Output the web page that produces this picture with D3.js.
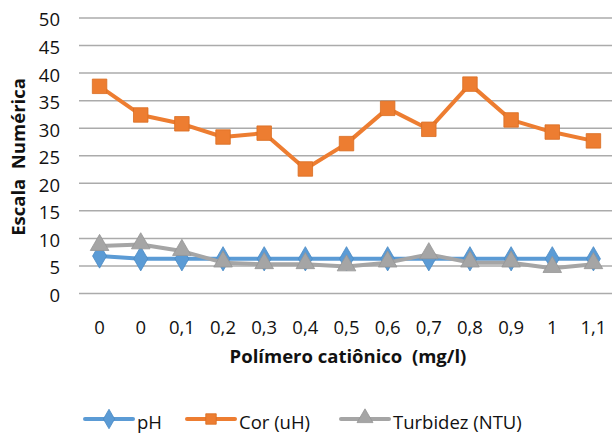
<!DOCTYPE html>
<html>
<head>
<meta charset="utf-8">
<script src="https://cdn.jsdelivr.net/npm/d3@7"></script>
<style>
    body { margin: 0; background: #fff; }
    text { font-family: "Open Sans", "Noto Sans", sans-serif; fill: #111; }
</style>
</head>
<body>
<div class="viz"></div>
<script>
// categorias do eixo x (polímero catiônico, mg/l)
var categories = ["0", "0", "0,1", "0,2", "0,3", "0,4", "0,5", "0,6", "0,7", "0,8", "0,9", "1", "1,1"];

var phValues = [6.8, 6.3, 6.3, 6.3, 6.3, 6.3, 6.3, 6.3, 6.3, 6.3, 6.3, 6.3, 6.3];
var corValues = [37.6, 32.4, 30.8, 28.4, 29.1, 22.6, 27.2, 33.6, 29.8, 38.0, 31.5, 29.3, 27.7];
var turbValues = [8.6, 8.9, 7.7, 5.6, 5.3, 5.3, 4.9, 5.6, 7.1, 5.6, 5.6, 4.6, 5.3];

var yTicks = [0, 5, 10, 15, 20, 25, 30, 35, 40, 45, 50];

var seriesNames = ["pH", "Cor (uH)", "Turbidez (NTU)"];
var seriesColors = ["#5B9BD5", "#ED7D31", "#A5A5A5"];
var seriesStroke = ["#4a8ac4", "#d96d22", "#959595"];
var seriesShapes = [d3.symbolDiamond, d3.symbolSquare, d3.symbolTriangle];

var width = 612,
    height = 433,
    margin = { top: 18, bottom: 139.5, left: 79, right: -2 };

var svg = d3.select('.viz').append('svg')
    .attr('width', width)
    .attr('height', height);

var x = d3.scaleBand()
    .domain(d3.range(categories.length))
    .range([margin.left, width - margin.right]);

var y = d3.scaleLinear()
    .domain([0, 50])
    .range([height - margin.bottom, margin.top]);

// linhas de grade
svg.append("g")
    .selectAll("line")
    .data(yTicks)
    .enter().append("line")
    .attr("x1", margin.left)
    .attr("x2", width)
    .attr("y1", d => y(d))
    .attr("y2", d => y(d))
    .attr("stroke", "#ababab")
    .attr("stroke-width", 1.5);

// rótulos do eixo y
svg.append("g")
    .selectAll("text")
    .data(yTicks)
    .enter().append("text")
    .attr("x", 60)
    .attr("y", d => y(d) + 2)
    .attr("dy", "0.35em")
    .attr("text-anchor", "end")
    .style("font-size", "18.5px")
    .text(d => d);

// rótulos do eixo x
svg.append("g")
    .selectAll("text")
    .data(categories)
    .enter().append("text")
    .attr("x", (d, i) => x(i) + x.bandwidth() / 2)
    .attr("y", 333.5)
    .attr("text-anchor", "middle")
    .style("font-size", "18.5px")
    .text(d => d);

svg.append("text")
    .attr("x", 348)
    .attr("y", 363)
    .attr("text-anchor", "middle")
    .style("font-size", "18.5px")
    .style("font-weight", "bold")
    .style("white-space", "pre")
    .text("Polímero catiônico  (mg/l)");

svg.append("text")
    .attr("transform", "translate(25,157)rotate(-90)")
    .attr("text-anchor", "middle")
    .style("font-size", "18.5px")
    .style("font-weight", "bold")
    .style("white-space", "pre")
    .text("Escala  Numérica");

var allSeries = [phValues, corValues, turbValues];

var line = d3.line()
    .x((d, i) => x(i) + x.bandwidth() / 2)
    .y(d => y(d));

// desenha as séries (pH por baixo, turbidez por cima)
allSeries.forEach(function(values, s) {
    var g = svg.append("g");
    g.append("path")
        .datum(values)
        .attr("d", line)
        .attr("fill", "none")
        .attr("stroke", seriesColors[s])
        .attr("stroke-width", 4)
        .attr("stroke-linejoin", "round");
    g.selectAll("path.marker")
        .data(values)
        .enter().append("path")
        .attr("class", "marker")
        .attr("d", d3.symbol().type(seriesShapes[s]).size(s == 2 ? 150 : (s == 1 ? 210 : 170)))
        .attr("transform", (d, i) => "translate(" + (x(i) + x.bandwidth() / 2) + "," + (y(d) + (s == 2 ? -1 : 0)) + ")")
        .attr("fill", seriesColors[s])
        .attr("stroke", seriesStroke[s])
        .attr("stroke-width", 0.8);
});

// legenda
var legendX = [85, 187, 341];
var legend = svg.append("g");
seriesNames.forEach(function(name, s) {
    var lg = legend.append("g").attr("transform", "translate(" + legendX[s] + ",419)");
    lg.append("line")
        .attr("x1", 0)
        .attr("x2", 48)
        .attr("stroke", seriesColors[s])
        .attr("stroke-width", 4)
        .attr("stroke-linecap", "round");
    lg.append("path")
        .attr("d", d3.symbol().type(seriesShapes[s]).size(110))
        .attr("transform", "translate(24," + (s == 2 ? -1 : 0) + ")")
        .attr("fill", seriesColors[s])
        .attr("stroke", seriesStroke[s])
        .attr("stroke-width", 0.8);
    lg.append("text")
        .attr("x", 52)
        .attr("y", 9.5)
        .style("font-size", "18.5px")
        .text(name);
});
</script>
</body>
</html>
